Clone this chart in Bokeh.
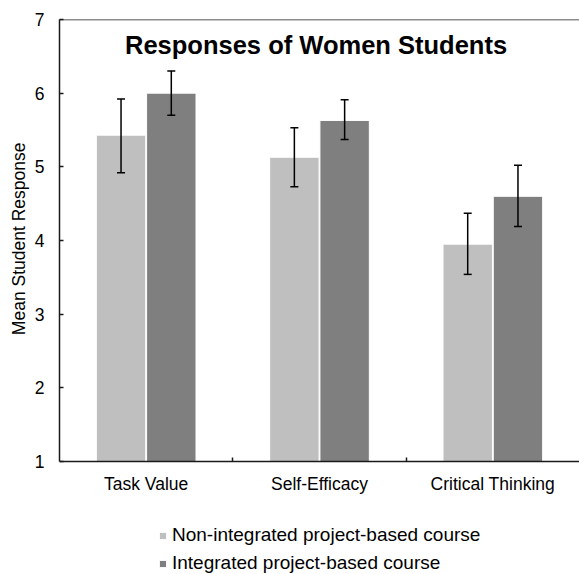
from bokeh.plotting import figure
from bokeh.models import (FactorRange, Range1d, LinearAxis, FixedTicker, Whisker, TeeHead,
                          ColumnDataSource, Legend, LegendItem, Label, Span, Title)
from bokeh.transform import dodge
from bokeh.embed import file_html
from bokeh.resources import INLINE

categories = ["Task Value", "Self-Efficacy", "Critical Thinking"]
non_integrated = [5.43, 5.13, 3.95]
non_integrated_lower = [4.92, 4.73, 3.54]
non_integrated_upper = [5.92, 5.53, 4.37]
integrated = [6.00, 5.63, 4.60]
integrated_lower = [5.70, 5.37, 4.19]
integrated_upper = [6.30, 5.91, 5.02]
y_ticks = [1, 2, 3, 4, 5, 6, 7]
series_labels = ["Non-integrated project-based course", "Integrated project-based course"]
title_text = "Responses of Women Students"
y_label = "Mean Student Response"

FONT = "Liberation Sans"
LIGHT = "#bfbfbf"
DARK = "#7f7f7f"
AXIS = "#1a1a1a"

W, H = 579, 574
TOP, LEFT = 19, 59
AXIS_Y_PX = 461  # pixel row where the value axis starts (value 1)
px_per_unit = (AXIS_Y_PX - TOP) / (y_ticks[-1] - y_ticks[0])
y_lo = y_ticks[0] - (H - AXIS_Y_PX) / px_per_unit  # frame extends below the axis to hold the legend

src = ColumnDataSource(dict(
    cat=categories,
    a=non_integrated, al=non_integrated_lower, au=non_integrated_upper,
    b=integrated, bl=integrated_lower, bu=integrated_upper,
))

p = figure(x_range=FactorRange(factors=categories, range_padding=0),
           y_range=Range1d(y_lo, y_ticks[-1]),
           width=W, height=H, output_backend="svg", toolbar_location=None,
           x_axis_location=None,
           min_border_left=LEFT, min_border_right=0, min_border_top=TOP, min_border_bottom=0)

off = 0.145
bw = 0.285
r1 = p.vbar(x=dodge('cat', -off, range=p.x_range), top='a', bottom=y_ticks[0], width=bw,
            source=src, fill_color=LIGHT, line_color="white", line_width=1)
r2 = p.vbar(x=dodge('cat', off, range=p.x_range), top='b', bottom=y_ticks[0], width=bw,
            source=src, fill_color=DARK, line_color="white", line_width=1)

for shift, lo, up in [(-off, 'al', 'au'), (off, 'bl', 'bu')]:
    w = Whisker(source=src, base=dodge('cat', shift, range=p.x_range), upper=up, lower=lo,
                line_color="black", line_width=1.5, level="annotation",
                upper_head=TeeHead(size=8, line_color="black", line_width=1.5),
                lower_head=TeeHead(size=8, line_color="black", line_width=1.5))
    p.add_layout(w)

# bottom axis at value 1: labels at category centres, ticks at category boundaries
xaxis = LinearAxis(
    fixed_location=y_ticks[0],
    ticker=FixedTicker(ticks=[i + 0.5 for i in range(len(categories))],
                       minor_ticks=[float(i) for i in range(1, len(categories))]),
    major_label_overrides={i + 0.5: c for i, c in enumerate(categories)},
    major_tick_in=0, major_tick_out=0, minor_tick_in=4, minor_tick_out=0,
    minor_tick_line_color=AXIS, minor_tick_line_width=1.5,
    axis_line_color=AXIS, axis_line_width=1.5,
    major_label_text_font=FONT, major_label_text_font_size="17.5px",
    major_label_text_color="black", major_label_standoff=12,
)
p.add_layout(xaxis, "below")

ya = p.yaxis[0]
ya.bounds = (y_ticks[0], y_ticks[-1])
ya.ticker = FixedTicker(ticks=y_ticks)
ya.major_tick_in = 4
ya.major_tick_out = 0
ya.minor_tick_line_color = None
ya.major_tick_line_color = AXIS
ya.major_tick_line_width = 1.5
ya.axis_line_color = AXIS
ya.axis_line_width = 1.5
ya.major_label_text_font = FONT
ya.major_label_text_font_size = "17.5px"
ya.major_label_text_color = "black"
ya.major_label_standoff = 15

# value-axis title, placed along the 1..7 span of the axis
p.add_layout(Title(text=y_label, align="right", offset=123, text_font=FONT,
                   text_font_size="17.5px", text_font_style="normal", text_color="black",
                   standoff=6), "left")

p.xgrid.visible = False
p.ygrid.visible = False
p.outline_line_color = None
p.add_layout(Span(location=y_ticks[-1], dimension="width", line_color=AXIS, line_width=1.5))

p.add_layout(Label(x=1.48, y=6.66, text=title_text, text_align="center",
                   text_baseline="alphabetic", text_font=FONT, text_font_size="25.5px",
                   text_font_style="bold", text_color="black"))

legend = Legend(items=[LegendItem(label=series_labels[0], renderers=[r1]),
                       LegendItem(label=series_labels[1], renderers=[r2])],
                location=(99, 0), orientation="vertical",
                glyph_width=9, glyph_height=9, label_standoff=5,
                label_text_font=FONT, label_text_font_size="19px", label_text_color="black",
                label_height=20, spacing=6, padding=0, margin=0,
                border_line_color=None, background_fill_alpha=0)
p.add_layout(legend)

open("out.html", "w").write(file_html(p, INLINE))
